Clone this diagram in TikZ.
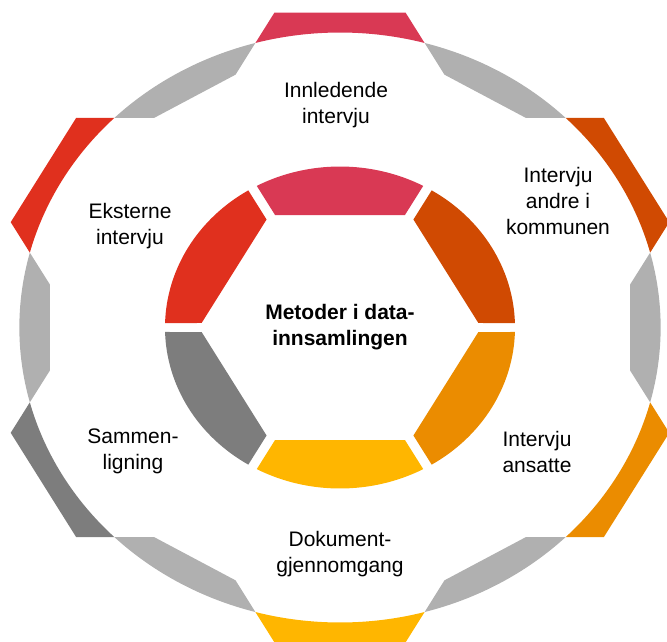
\documentclass[tikz,border=0pt]{standalone}
\usepackage{fontspec}
\setmainfont{Liberation Sans}
\definecolor{segRose}{HTML}{D93954}
\definecolor{segOrange}{HTML}{D04A02}
\definecolor{segTangerine}{HTML}{EB8C00}
\definecolor{segYellow}{HTML}{FFB600}
\definecolor{segGrey}{HTML}{7D7D7D}
\definecolor{segRed}{HTML}{E0301E}
\definecolor{linkGrey}{HTML}{B0B0B0}
\begin{document}
\begin{tikzpicture}[x=1pt,y=1pt,
  label/.style={align=center,font=\fontsize{21}{26}\selectfont,text=black,inner sep=0pt},
  hub/.style={align=center,font=\fontsize{21}{26}\selectfont\bfseries,text=black,inner sep=0pt}]
\useasboundingbox (-340,-313.5) rectangle (327,327.5);

\begin{scope}[xscale=1.087]
  % outer ring: coloured pieces with a flat outer edge
  \foreach \ang/\col in {90/segRose,30/segOrange,-30/segTangerine,-90/segYellow,-150/segGrey,150/segRed}{
    \fill[\col,rotate=\ang-90] (105.3:295) -- (-60.25,315) -- (60.25,315) -- (74.7:295)
      arc[start angle=74.7,end angle=105.3,radius=295] -- cycle;
  }
  % outer ring: grey links with a flat inner edge
  \foreach \ang in {0,60,120,180,240,300}{
    \fill[linkGrey,rotate=\ang] (-14.7:295) arc[start angle=-14.7,end angle=14.7,radius=295]
      -- (267,43.2) -- (267,-43.2) -- cycle;
  }
  % inner ring of six segments around the hub
  \foreach \ang/\col in {90/segRose,30/segOrange,-30/segTangerine,-90/segYellow,-150/segGrey,150/segRed}{
    \fill[\col,rotate=\ang-90] (59.75,112.5) -- (61.6:161)
      arc[start angle=61.6,end angle=118.4,radius=161] -- (-59.75,112.5) -- cycle;
  }
\end{scope}

\node[hub] (hub) at (0,0) {Metoder i data-\\innsamlingen};
\node[label] (innl) at (-4,222.5) {Innledende\\intervju};
\node[label] (andre) at (218,126.5) {Intervju\\andre i\\kommunen};
\node[label] (ansatte) at (197,-124.5) {Intervju\\ansatte};
\node[label] (dok) at (0,-226.5) {Dokument-\\gjennomgang};
\node[label] (samm) at (-207,-123.5) {Sammen-\\ligning};
\node[label] (ekst) at (-210,101.5) {Eksterne\\intervju};
\end{tikzpicture}
\end{document}
